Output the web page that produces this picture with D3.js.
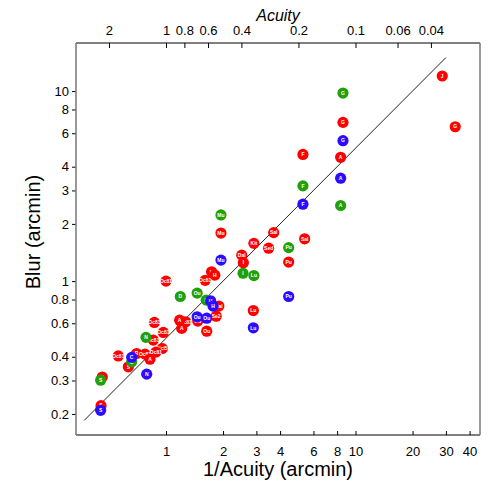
<!DOCTYPE html>
<html>
<head>
<meta charset="utf-8">
<script src="https://d3js.org/d3.v7.min.js"></script>
<style>
  body { margin: 0; background: #fff; }
  text { font-family: "Liberation Sans", Arial, sans-serif; }
</style>
</head>
<body>
<div id="chart"></div>
<script>
// Data: 1/Acuity (arcmin) vs Blur (arcmin)
const redX = [28.7, 33.6, 8.59, 8.35, 5.28, 3.70, 5.39, 1.95, 2.91, 3.48, 4.44, 2.51, 2.56, 1.74, 1.81, 1.61, 2.89, 1.0, 1.90, 1.84, 1.47, 1.64, 1.27, 1.18, 1.21, 0.868, 0.968, 0.857, 0.956, 0.56, 0.633, 0.70, 0.775, 0.885, 0.823, 0.461, 0.454];
const redY = [12.0, 6.49, 6.84, 4.48, 4.64, 1.80, 1.67, 1.79, 1.58, 1.49, 1.26, 1.37, 1.25, 1.12, 1.075, 1.01, 0.70, 1.0, 0.739, 0.654, 0.616, 0.545, 0.611, 0.623, 0.564, 0.606, 0.537, 0.489, 0.442, 0.404, 0.354, 0.416, 0.413, 0.423, 0.388, 0.313, 0.221];
const redLabels = ["J", "G", "G", "A", "F", "Sal", "Sal", "Mu", "Kit", "Sed", "Pu", "Dal", "I", "H", "H", "Oc81", "Lu", "Oc81", "Dal", "Se2", "Ou", "Ou", "Oc81", "A", "A", "Oc81", "Oc81", "Oc81", "Ncl5", "Oc81", "S", "R", "Oc81", "Oc81", "A", "S", "S"];

const greenX = [8.59, 8.35, 5.28, 1.95, 4.44, 2.55, 2.91, 1.19, 1.46, 1.63, 0.784, 0.659, 0.452];
const greenY = [9.76, 2.50, 3.17, 2.23, 1.50, 1.10, 1.07, 0.83, 0.865, 0.794, 0.506, 0.376, 0.301];
const greenLabels = ["G", "A", "F", "Mu", "Pu", "I", "Lu", "D", "Ou", "H", "N", "C", "S"];

const blueX = [8.59, 8.35, 5.28, 1.95, 4.44, 2.89, 1.72, 1.77, 1.46, 1.64, 0.659, 0.791, 0.452];
const blueY = [5.48, 3.48, 2.54, 1.29, 0.83, 0.568, 0.788, 0.739, 0.649, 0.638, 0.397, 0.324, 0.209];
const blueLabels = ["G", "A", "F", "Mu", "Pu", "Lu", "H", "H", "Ou", "Ou", "C", "N", "S"];

const xTicks = [1, 2, 3, 4, 6, 8, 10, 20, 30, 40];
const yTicks = [0.2, 0.3, 0.4, 0.6, 0.8, 1, 2, 3, 4, 6, 8, 10];
const acuityTicks = [2, 1, 0.8, 0.6, 0.4, 0.2, 0.1, 0.06, 0.04];
const fitX = [0.37, 30]; // line Blur = 0.5 * (1/Acuity)
const fitSlope = 0.5;

const W = 490, H = 483;
const margin = { top: 43, right: 10, bottom: 48, left: 76 };
const width = W - margin.left - margin.right;
const height = H - margin.top - margin.bottom;

const x = d3.scaleLog().domain([0.335, 45.4]).range([0, width]);
const y = d3.scaleLog().domain([0.155, 17.9]).range([height, 0]);

const svg = d3.select("#chart").append("svg")
    .attr("width", W)
    .attr("height", H)
  .append("g")
    .attr("transform", `translate(${margin.left},${margin.top})`);

// bottom axis, ticks inside
const xAxis = svg.append("g")
    .attr("transform", `translate(0,${height})`)
    .call(d3.axisBottom(x).tickValues(xTicks).tickFormat(d3.format("")).tickSizeInner(-4).tickSizeOuter(0).tickPadding(12));
xAxis.select(".domain").remove();
xAxis.selectAll("text").style("font-size", "13px").attr("fill", "#000");

// top axis in Acuity units, ticks inside
const topAxis = svg.append("g")
    .call(d3.axisTop(x).tickValues(acuityTicks.map(a => 1 / a)).tickFormat(v => d3.format("")(+(1 / v).toFixed(2))).tickSizeInner(-5).tickSizeOuter(0).tickPadding(8));
topAxis.select(".domain").remove();
topAxis.selectAll("text").style("font-size", "13px").attr("fill", "#000");

// left axis, ticks outside
const yAxis = svg.append("g")
    .call(d3.axisLeft(y).tickValues(yTicks).tickFormat(d3.format("")).tickSizeInner(4).tickSizeOuter(0).tickPadding(3));
yAxis.select(".domain").remove();
yAxis.selectAll("text").style("font-size", "13px").attr("fill", "#000");

// frame
svg.append("line").attr("x1", 0).attr("x2", width).attr("y1", 0).attr("y2", 0).attr("stroke", "#000");
svg.append("line").attr("x1", 0).attr("x2", width).attr("y1", height).attr("y2", height).attr("stroke", "#000");
svg.append("line").attr("x1", 0).attr("x2", 0).attr("y1", 0).attr("y2", height).attr("stroke", "#777").attr("stroke-width", 1.5);
svg.append("line").attr("x1", width).attr("x2", width).attr("y1", 0).attr("y2", height).attr("stroke", "#777").attr("stroke-width", 1.5);

// fit line
svg.append("path")
    .datum(fitX)
    .attr("fill", "none")
    .attr("stroke", "#222")
    .attr("stroke-width", 1)
    .attr("d", d3.line().x(d => x(d)).y(d => y(d * fitSlope)));

// points
const groups = [
  { xs: redX, ys: redY, labels: redLabels, color: "#ff0000" },
  { xs: greenX, ys: greenY, labels: greenLabels, color: "#22a00c" },
  { xs: blueX, ys: blueY, labels: blueLabels, color: "#2a0cff" }
];

groups.forEach(g => {
  const pts = g.xs.map((v, i) => ({ x: v, y: g.ys[i], label: g.labels[i] }));
  const node = svg.append("g").selectAll("g")
      .data(pts)
      .join("g")
      .attr("transform", d => `translate(${x(d.x)},${y(d.y)})`);
  node.append("circle")
      .attr("r", 5.6)
      .attr("fill", g.color);
  node.append("text")
      .attr("text-anchor", "middle")
      .attr("dy", "0.35em")
      .style("font-size", "5px")
      .style("font-weight", "bold")
      .attr("fill", "#fff")
      .text(d => d.label);
});

// titles
svg.append("text")
    .attr("x", width / 2)
    .attr("y", -22)
    .attr("text-anchor", "middle")
    .style("font-size", "16px")
    .style("font-style", "italic")
    .text("Acuity");

svg.append("text")
    .attr("x", width / 2)
    .attr("y", height + 41)
    .attr("text-anchor", "middle")
    .style("font-size", "20px")
    .text("1/Acuity (arcmin)");

svg.append("text")
    .attr("transform", "rotate(-90)")
    .attr("x", -(232 - margin.top))
    .attr("y", -36)
    .attr("text-anchor", "middle")
    .style("font-size", "20px")
    .text("Blur (arcmin)");
</script>
</body>
</html>
